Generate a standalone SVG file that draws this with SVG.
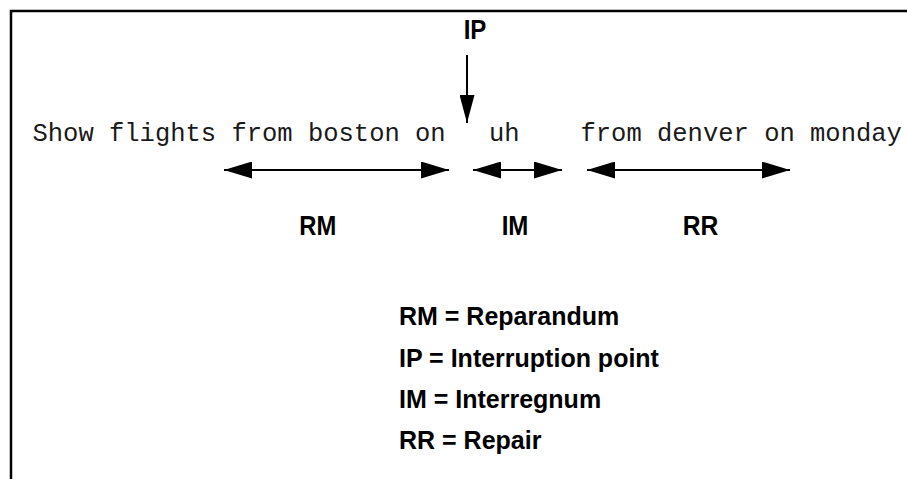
<svg xmlns="http://www.w3.org/2000/svg" width="907" height="479" viewBox="0 0 907 479">
  <style>
    .mono { font-family: "Liberation Mono", "Courier New", monospace; font-size: 25.5px; fill: #1a1a1a; }
    .lab { font-family: "Liberation Sans", Arial, sans-serif; font-weight: bold; font-size: 28px; fill: #000; text-anchor: middle; }
    .leg { font-family: "Liberation Sans", Arial, sans-serif; font-weight: bold; font-size: 25px; fill: #000; }
    .conn { stroke: #000; stroke-width: 2; fill: none; }
  </style>
  <defs>
    <marker id="ah" markerUnits="userSpaceOnUse" markerWidth="28" markerHeight="17" refX="28" refY="8.5" orient="auto-start-reverse" viewBox="0 0 28 17">
      <path d="M0,0 L28,8.5 L0,17 z" fill="#000"/>
    </marker>
    <marker id="ahv" markerUnits="userSpaceOnUse" markerWidth="28" markerHeight="15" refX="28" refY="7.5" orient="auto" viewBox="0 0 28 15">
      <path d="M0,0 L28,7.5 L0,15 z" fill="#000"/>
    </marker>
  </defs>
  <rect width="907" height="479" fill="#fff"/>
  <path d="M11,479 V11 H907" stroke="#000" stroke-width="2.5" fill="none"/>

  <g id="connectors">
    <line class="conn" x1="467" y1="55" x2="467" y2="123" marker-end="url(#ahv)"/>
    <line class="conn" x1="224" y1="170" x2="449" y2="170" marker-start="url(#ah)" marker-end="url(#ah)"/>
    <line class="conn" x1="473" y1="170" x2="562" y2="170" marker-start="url(#ah)" marker-end="url(#ah)"/>
    <line class="conn" x1="587" y1="170" x2="790" y2="170" marker-start="url(#ah)" marker-end="url(#ah)"/>
  </g>

  <g id="ip-label"><text class="lab" transform="translate(475,39) scale(0.86,1)">IP</text></g>
  <g id="reparandum-text"><text class="mono" x="32.5" y="141">Show flights from boston on</text></g>
  <g id="interregnum-text"><text class="mono" x="489" y="141">uh</text></g>
  <g id="repair-text"><text class="mono" x="580.5" y="141">from denver on monday</text></g>

  <g id="rm-label"><text class="lab" transform="translate(317.7,235) scale(0.85,1)">RM</text></g>
  <g id="im-label"><text class="lab" transform="translate(515,235) scale(0.86,1)">IM</text></g>
  <g id="rr-label"><text class="lab" transform="translate(700.5,235) scale(0.88,1)">RR</text></g>

  <g id="legend">
    <text class="leg" x="399" y="325">RM = Reparandum</text>
    <text class="leg" x="399" y="367">IP = Interruption point</text>
    <text class="leg" x="399" y="408">IM = Interregnum</text>
    <text class="leg" x="399" y="449">RR = Repair</text>
  </g>
</svg>
